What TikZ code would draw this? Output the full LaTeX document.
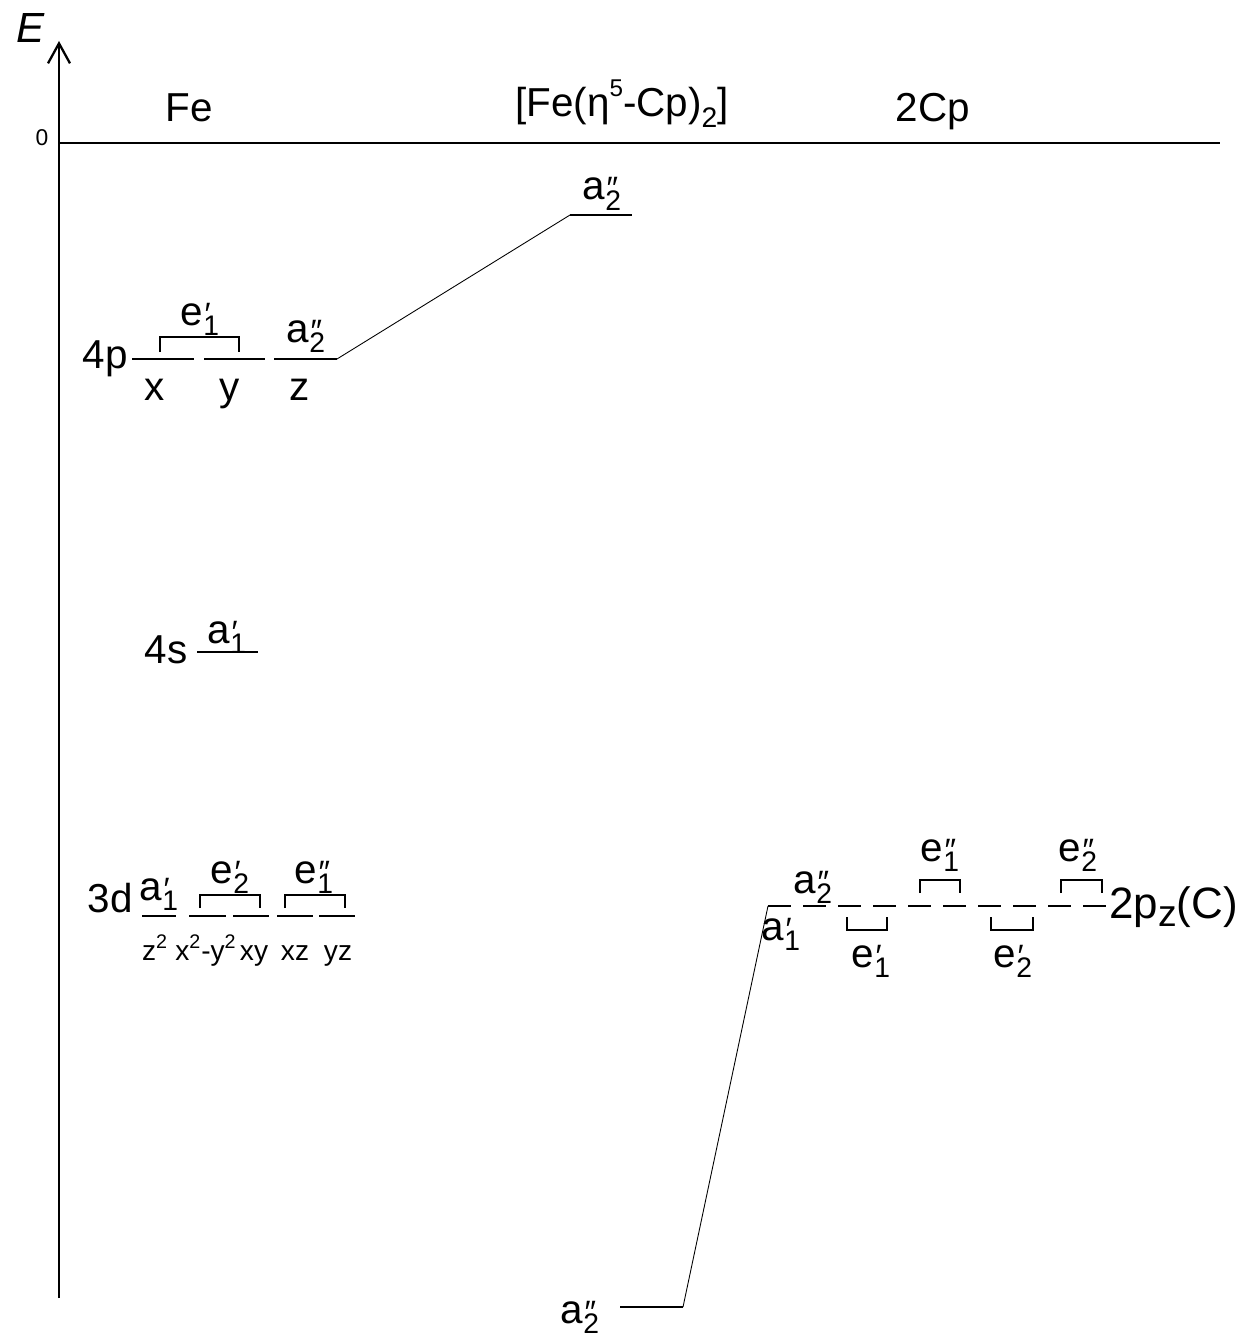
\documentclass[tikz,border=0pt]{standalone}
\usepackage{fontspec}
\setmainfont{Liberation Sans}
\usetikzlibrary{positioning,arrows.meta}
\tikzset{
  axis/.style={draw, line width=1.3pt},
  lvl/.style={draw, line width=1.3pt},
  cpdash/.style={draw, line width=1.6pt},
  brk/.style={draw, line width=1.2pt},
  link/.style={draw, line width=0.5pt},
  ttl/.style={font=\fontsize{23}{27}\selectfont, inner sep=0pt, anchor=base},
  lbl/.style={font=\fontsize{23}{27}\selectfont, inner sep=0pt, anchor=base},
  tiny/.style={font=\fontsize{16}{19}\selectfont, inner sep=0pt, anchor=base},
}
% symmetry label: letter, subscript, prime mark stacked over the subscript
\newcommand{\Sym}[3]{#1\rlap{\kern0.03em\scalebox{0.8}{#3}}\raisebox{-0.27em}{\scalebox{0.7}{#2}}}
\newcommand{\Lo}[1]{\raisebox{-0.27em}{\scalebox{0.7}{#1}}}
\newcommand{\Level}[4]{%
  \draw[lvl] (#2,#4) coordinate (#1l) -- (#3,#4) coordinate (#1r);}
\newcommand{\Brk}[5]{% name, x1, x2, y foot, y top
  \draw[brk] (#2,#4) coordinate (#1l) -- (#2,#5) -- (#3,#5) -- (#3,#4) coordinate (#1r);}

\begin{document}
\begin{tikzpicture}[x=0.02cm, y=-0.02cm]
  \useasboundingbox (0,0) rectangle (1243,1338);

  %====================== AXES ======================
  \coordinate (orig) at (59,1298);
  \coordinate (etop) at (59,41);
  \coordinate (zl) at (59,143);
  \coordinate (zr) at (1220,143);
  \draw[axis,-{Straight Barb[length=4mm,width=4.4mm]}] (orig) -- (etop);
  \draw[axis] (zl) -- (zr);
  \node[font=\fontsize{24}{28}\selectfont\itshape, inner sep=0pt] (E) at (31,28) {E};
  \node[font=\fontsize{13}{16}\selectfont, inner sep=0pt] (zero) at (42,138) {0};

  \node[ttl] (feT) at (189,122) {Fe};
  \node[ttl] (fcpT) at (622,117)
    {[Fe(η\raisebox{0.5em}{\scalebox{0.6}{5}}-Cp)\Lo{2}]};
  \node[ttl] (cpT) at (933,122) {2Cp};

  %====================== Fe: 4p ======================
  \Level{px}{132}{194}{359}
  \Level{py}{204}{265}{359}
  \Level{pz}{274}{337}{359}
  \node[lbl, anchor=base east] (p4) at (128,368) {4p};
  \Brk{pe}{160}{239}{352}{337}
  \node[lbl] (peT) at (200,325) {\Sym{e}{1}{′}};
  \node[lbl] (pzT) at (306,342) {\Sym{a}{2}{″}};
  \node[lbl] (pxL) at (155,400) {x};
  \node[lbl] (pyL) at (230,400) {y};
  \node[lbl] (pzL) at (300,400) {z};

  %====================== Fe: 4s ======================
  \Level{s}{197}{258}{652}
  \node[lbl, anchor=base east] (s4) at (188,663) {4s};
  \node[lbl] (sT) at (227,643) {\Sym{a}{1}{′}};

  %====================== Fe: 3d ======================
  \Level{dz}{142}{176}{916}
  \Level{dxy}{189}{226}{916}
  \Level{dxyb}{233}{269}{916}
  \Level{dxz}{277}{313}{916}
  \Level{dyz}{319}{355}{916}
  \node[lbl, anchor=base east] (d3) at (133,912) {3d};
  \node[lbl] (dzT) at (159,900) {\Sym{a}{1}{′}};
  \Brk{de}{200}{260}{908}{895}
  \Brk{dee}{285}{345}{908}{895}
  \node[lbl] (deT) at (230,883) {\Sym{e}{2}{′}};
  \node[lbl] (deeT) at (314,883) {\Sym{e}{1}{″}};
  \node[tiny] (dzL) at (155,960) {z\textsuperscript{2}};
  \node[tiny] (dxyL) at (206,960) {x\textsuperscript{2}-y\textsuperscript{2}};
  \node[tiny] (dxybL) at (254,960) {xy};
  \node[tiny] (dxzL) at (295,960) {xz};
  \node[tiny] (dyzL) at (338,960) {yz};

  %====================== 2Cp: 2pz ======================
  \foreach \i in {0,...,9}
    \draw[cpdash] ({768+35*\i},906) coordinate (cp\i l) -- ({791+35*\i},906) coordinate (cp\i r);
  \node[lbl, anchor=base west, font=\fontsize{25}{29}\selectfont] (cpL) at (1109,918)
    {2p\raisebox{-0.2em}{\scalebox{0.85}{z}}(C)};
  \node[lbl] (cp0T) at (781,940) {\Sym{a}{1}{′}};
  \node[lbl] (cp1T) at (813,893) {\Sym{a}{2}{″}};
  \Brk{ce1}{847}{887}{917}{930}
  \Brk{ce2}{920}{960}{893}{880}
  \Brk{ce3}{991}{1033}{917}{930}
  \Brk{ce4}{1061}{1102}{893}{880}
  \node[lbl] (ce1T) at (871,967) {\Sym{e}{1}{′}};
  \node[lbl] (ce2T) at (940,861) {\Sym{e}{1}{″}};
  \node[lbl] (ce3T) at (1013,967) {\Sym{e}{2}{′}};
  \node[lbl] (ce4T) at (1078,861) {\Sym{e}{2}{″}};

  %====================== COMPLEX ======================
  \Level{ta}{570}{632}{215}
  \node[lbl] (taT) at (602,200) {\Sym{a}{2}{″}};
  \Level{ba}{620}{683}{1307}
  \node[lbl] (baT) at (580,1323) {\Sym{a}{2}{″}};

  % correlation lines
  \draw[link] (pzr) -- (tal);
  \draw[link] (cp0l) -- (bar);

\end{tikzpicture}
\end{document}
